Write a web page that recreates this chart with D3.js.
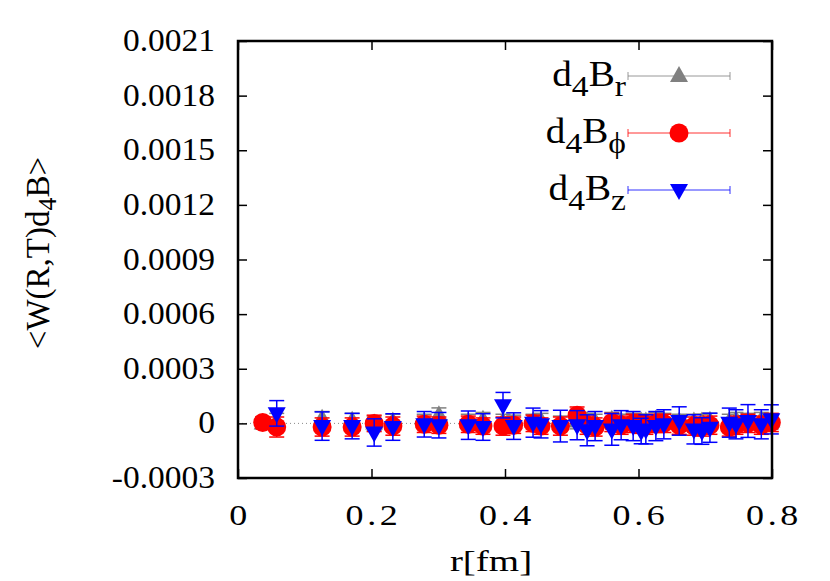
<!DOCTYPE html>
<html>
<head>
<meta charset="utf-8">
<script src="https://cdn.jsdelivr.net/npm/d3@7"></script>
<style>
  body { margin: 0; background: #fff; }
  text { font-family: "Liberation Serif", "Times New Roman", serif; fill: #000; }
</style>
</head>
<body>
<div id="chart"></div>
<script>
// r values (fm)
var rValues = [0.037, 0.058, 0.126, 0.171, 0.204, 0.232, 0.279, 0.301, 0.345, 0.367, 0.397, 0.413,
               0.442, 0.454, 0.483, 0.508, 0.523, 0.535, 0.560, 0.574, 0.592, 0.604, 0.611, 0.626,
               0.638, 0.661, 0.683, 0.695, 0.707, 0.736, 0.746, 0.764, 0.784, 0.799];
var rValuesZ = rValues.slice(1);

// d4B_r (gray)
var valR = [0.0, 1.0e-5, 2.5e-5, 1.5e-5, 0.0, 1.0e-5, 1.0e-5, 4.5e-5, 1.0e-5, 2.0e-5, 1.0e-5, 0.5e-5,
            1.0e-5, 1.5e-5, 0.0, 1.0e-5, 1.5e-5, 1.0e-5, 2.0e-5, 1.0e-5, 1.5e-5, 1.0e-5, 1.0e-5, 2.0e-5,
            1.5e-5, 1.0e-5, 1.0e-5, 1.0e-5, 1.5e-5, 1.0e-5, 2.0e-5, 1.5e-5, 2.0e-5, 1.0e-5];
var errR = [3e-5, 4.5e-5, 4e-5, 4e-5, 4e-5, 4e-5, 4e-5, 4e-5, 4e-5, 4e-5, 4e-5, 4e-5,
            4e-5, 4e-5, 4e-5, 4e-5, 4e-5, 4e-5, 4e-5, 4e-5, 4e-5, 4e-5, 4e-5, 4e-5,
            4e-5, 4e-5, 4e-5, 4e-5, 4e-5, 4e-5, 4e-5, 4e-5, 4e-5, 4e-5];

// d4B_phi (red)
var valPhi = [0.5e-5, -2.0e-5, -2.0e-5, -2.0e-5, 0.0, -1.5e-5, -0.5e-5, -1.0e-5, -0.5e-5, -1.5e-5, -1.5e-5, -1.0e-5,
              0.0, -1.5e-5, -1.5e-5, 4.5e-5, -1.0e-5, -2.0e-5, 0.5e-5, -1.0e-5, 0.0, -0.5e-5, -1.0e-5, 0.0,
              0.0, -1.0e-5, -1.5e-5, -2.0e-5, -1.0e-5, -2.0e-5, -1.0e-5, 0.0, -1.0e-5, 0.5e-5];
var errPhi = [3e-5, 5.5e-5, 5e-5, 5e-5, 4.5e-5, 5e-5, 4.5e-5, 4.5e-5, 4.5e-5, 4.5e-5, 5e-5, 4.5e-5,
              4.5e-5, 4.5e-5, 5e-5, 4.5e-5, 5e-5, 5e-5, 5e-5, 5e-5, 5e-5, 5e-5, 5e-5, 5e-5,
              5e-5, 5e-5, 5e-5, 5e-5, 5e-5, 5e-5, 5e-5, 5e-5, 5e-5, 5e-5];

// d4B_z (blue)
var valZ = [5.5e-5, -1.5e-5, -1.5e-5, -5.0e-5, -2.0e-5, -0.5e-5, -1.0e-5, -1.0e-5, -2.0e-5, 10.0e-5, -1.5e-5,
            0.4e-5, -0.5e-5, -1.5e-5, -1.0e-5, -3.8e-5, -1.5e-5, -3.3e-5, -1.0e-5, -1.5e-5, -4.2e-5, -3.3e-5,
            -1.5e-5, -0.5e-5, 1.3e-5, -3.3e-5, -4.2e-5, -2.4e-5, 0.4e-5, -0.5e-5, 1.3e-5, -0.5e-5, 2.2e-5];
var errZ = [7e-5, 7.8e-5, 7e-5, 7.5e-5, 7.3e-5, 7e-5, 7e-5, 7.8e-5, 7.3e-5, 7e-5, 7.3e-5,
            8e-5, 7.5e-5, 8.7e-5, 8e-5, 8.5e-5, 8e-5, 8.7e-5, 8e-5, 8e-5, 7e-5, 8e-5,
            8e-5, 8e-5, 7.8e-5, 8e-5, 7.3e-5, 8e-5, 8e-5, 8e-5, 9e-5, 8e-5, 8e-5];

var xTicks = [0, 0.2, 0.4, 0.6, 0.8];
var xTickLabels = ["0", "0.2", "0.4", "0.6", "0.8"];
var yTicks = [-0.0003, 0, 0.0003, 0.0006, 0.0009, 0.0012, 0.0015, 0.0018, 0.0021];
var yTickLabels = ["-0.0003", "0", "0.0003", "0.0006", "0.0009", "0.0012", "0.0015", "0.0018", "0.0021"];

var width = 830, height = 581;
var plotLeft = 238, plotRight = 772, plotTop = 41, plotBottom = 478;

var svg = d3.select("#chart").append("svg")
    .attr("width", width)
    .attr("height", height);

var x = d3.scaleLinear().domain([0, 0.8]).range([plotLeft, plotRight]);
var y = d3.scaleLinear().domain([-0.0003, 0.0021]).range([plotBottom, plotTop]);

// zero line (dotted)
svg.append("line")
    .attr("x1", plotLeft).attr("x2", plotRight)
    .attr("y1", y(0)).attr("y2", y(0))
    .attr("stroke", "#888").attr("stroke-width", 1)
    .attr("stroke-dasharray", "1,3");

// axes with inward ticks, labels drawn separately
var tick = 9;
svg.append("g").attr("transform", `translate(${plotLeft},0)`)
    .call(d3.axisLeft(y).tickValues(yTicks).tickSize(-tick).tickFormat(""));
svg.append("g").attr("transform", `translate(${plotRight},0)`)
    .call(d3.axisRight(y).tickValues(yTicks).tickSize(-tick).tickFormat(""));
svg.append("g").attr("transform", `translate(0,${plotBottom})`)
    .call(d3.axisBottom(x).tickValues(xTicks).tickSize(-tick).tickFormat(""));
svg.append("g").attr("transform", `translate(0,${plotTop})`)
    .call(d3.axisTop(x).tickValues(xTicks).tickSize(-tick).tickFormat(""));
svg.selectAll(".domain").remove();
svg.selectAll(".tick line").attr("stroke", "#000").attr("stroke-width", 1.5);

// tick labels (stretched a bit horizontally like the original)
yTicks.forEach(function(v, i) {
    svg.append("g")
        .attr("transform", `translate(215,${y(v) + 10}) scale(1.08,1)`)
        .append("text")
        .attr("text-anchor", "end")
        .style("font-size", "31px")
        .text(yTickLabels[i]);
});
xTicks.forEach(function(v, i) {
    svg.append("g")
        .attr("transform", `translate(${x(v) + 2},525) scale(1.2,1)`)
        .append("text")
        .attr("text-anchor", "middle")
        .style("font-size", "30px")
        .style("letter-spacing", "3px")
        .text(xTickLabels[i]);
});

// axis titles
svg.append("g")
    .attr("transform", `translate(491,571) scale(1.3,1)`)
    .append("text")
    .attr("text-anchor", "middle")
    .style("font-size", "30px")
    .text("r[fm]");

var yl = svg.append("g")
    .attr("transform", "translate(49,253) rotate(-90)")
    .append("text")
    .attr("text-anchor", "middle")
    .style("font-size", "33px");
yl.append("tspan").text("<W(R,T)d");
yl.append("tspan").attr("dy", 7).style("font-size", "26px").text("4");
yl.append("tspan").attr("dy", -7).text("B>");

// marker shapes
var triUp = "M0,-10L9,6L-9,6Z";
var triDown = "M0,10L9,-6L-9,-6Z";

var series = [
    { name: "r", xs: rValues, vals: valR, errs: errR, color: "#808080", shape: "up" },
    { name: "\u03D5", xs: rValues, vals: valPhi, errs: errPhi, color: "#ff0000", shape: "circle" },
    { name: "z", xs: rValuesZ, vals: valZ, errs: errZ, color: "#0000ff", shape: "down" }
];

function drawMarker(g, shape, color) {
    if (shape === "circle") {
        g.append("circle").attr("r", 9.5).attr("fill", color);
    } else {
        g.append("path").attr("d", shape === "up" ? triUp : triDown).attr("fill", color);
    }
}

var cap = 7.5;
series.forEach(function(s) {
    var data = s.xs.map(function(r, i) { return { r: r, v: s.vals[i], e: s.errs[i] }; });
    var g = svg.append("g");
    var bars = g.selectAll(".bar").data(data).enter().append("g")
        .attr("stroke", s.color).attr("stroke-width", 1.5);
    bars.append("line")
        .attr("x1", d => x(d.r)).attr("x2", d => x(d.r))
        .attr("y1", d => y(d.v - d.e)).attr("y2", d => y(d.v + d.e));
    bars.append("line")
        .attr("x1", d => x(d.r) - cap).attr("x2", d => x(d.r) + cap)
        .attr("y1", d => y(d.v - d.e)).attr("y2", d => y(d.v - d.e));
    bars.append("line")
        .attr("x1", d => x(d.r) - cap).attr("x2", d => x(d.r) + cap)
        .attr("y1", d => y(d.v + d.e)).attr("y2", d => y(d.v + d.e));
    g.selectAll(".pt").data(data).enter().append("g")
        .attr("transform", d => `translate(${x(d.r)},${y(d.v)})`)
        .each(function() { drawMarker(d3.select(this), s.shape, s.color); });
});

// frame
svg.append("rect")
    .attr("x", plotLeft).attr("y", plotTop)
    .attr("width", plotRight - plotLeft).attr("height", plotBottom - plotTop)
    .attr("fill", "none").attr("stroke", "#000").attr("stroke-width", 2.5);

// legend
var legendY = [76, 133, 190];
series.forEach(function(s, i) {
    var ly = legendY[i];
    var lg = svg.append("g");
    lg.append("line").attr("x1", 628).attr("x2", 730).attr("y1", ly).attr("y2", ly)
        .attr("stroke", s.color).attr("stroke-width", 1).attr("opacity", 0.8);
    [628, 730].forEach(function(cx) {
        lg.append("line").attr("x1", cx).attr("x2", cx).attr("y1", ly - 4).attr("y2", ly + 4)
            .attr("stroke", s.color).attr("stroke-width", 1).attr("opacity", 0.8);
    });
    drawMarker(lg.append("g").attr("transform", `translate(679,${ly})`), s.shape, s.color);

    var t = svg.append("g")
        .attr("transform", `translate(626,${ly + 10}) scale(1.12,1)`)
        .append("text")
        .attr("text-anchor", "end")
        .style("font-size", "35px");
    t.append("tspan").text("d");
    t.append("tspan").attr("dy", 10).style("font-size", "30px").text("4");
    t.append("tspan").attr("dy", -10).text("B");
    t.append("tspan").attr("dy", 10).style("font-size", "30px").text(s.name);
});
</script>
</body>
</html>
